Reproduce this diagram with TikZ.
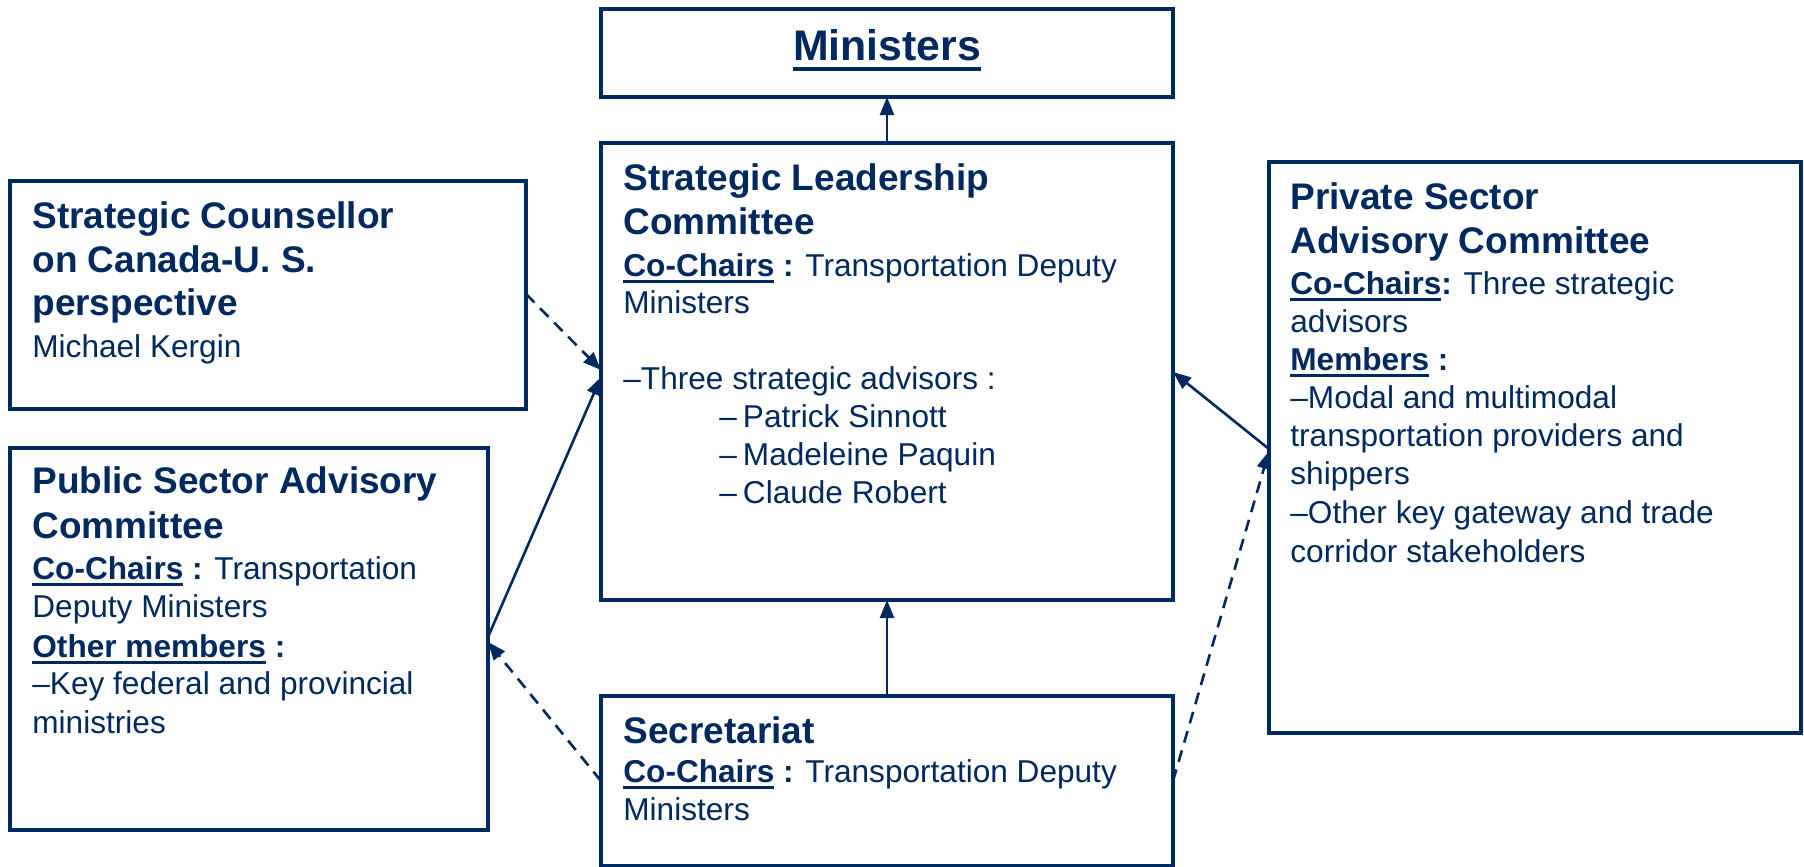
\documentclass[tikz,border=0pt]{standalone}
\usepackage{fontspec}
\setmainfont{Liberation Sans}
\usetikzlibrary{arrows.meta,calc,fit}
\definecolor{navy}{RGB}{0,41,96}

% underlined word with a rule set a little below the baseline
\newsavebox\ulsave
\newcommand\ulword[1]{\sbox\ulsave{#1}\rlap{\rule[-3.4pt]{\wd\ulsave}{1.6pt}}\usebox\ulsave}
\newcommand\ulbig[1]{\sbox\ulsave{#1}\rlap{\rule[-5pt]{\wd\ulsave}{2.1pt}}\usebox\ulsave}

\tikzset{
  box/.style={draw=navy, line width=1.55pt, inner sep=0pt, outer sep=0pt},
  hd/.style={font=\bfseries\fontsize{18.5}{22}\selectfont, text=navy, anchor=base west, inner sep=0pt},
  bd/.style={font=\fontsize{15.8}{19}\selectfont, text=navy, anchor=base west, inner sep=0pt},
  title/.style={font=\bfseries\fontsize{21.4}{25}\selectfont, text=navy, anchor=base, inner sep=0pt},
  link/.style={draw=navy, line width=1.3pt, -{Triangle[length=9pt,width=7pt]}},
  dlink/.style={link, dash pattern=on 6pt off 4pt}
}

\begin{document}
\begin{tikzpicture}[x=0.5pt, y=-0.5pt]
\useasboundingbox (0,0) rectangle (1804,867);
\fill[white] (0,0) rectangle (1804,867);

% boxes
\node[box, fit={(601,9) (1173,97)}] (min) {};
\node[box, fit={(601,143) (1173,600)}] (slc) {};
\node[box, fit={(10,181) (526,409)}] (csl) {};
\node[box, fit={(10,448) (488,830)}] (pub) {};
\node[box, fit={(601,696) (1173,866)}] (sec) {};
\node[box, fit={(1269,162) (1801,733)}] (pri) {};

% Ministers
\node[title] (min-t) at (887,61) {\ulbig{Ministers}};

% Strategic Leadership Committee
\node[hd] (slc-1) at (623,190) {Strategic Leadership};
\node[hd] (slc-2) at (623,234) {Committee};
\node[bd] (slc-3) at (623,276) {\ulword{\bfseries Co-Chairs}\textbf{ :} Transportation Deputy};
\node[bd] (slc-4) at (623,313) {Ministers};
\node[bd] (slc-5) at (623,389) {–Three strategic advisors :};
\node[bd] (slc-6) at (719,427) {–\hspace{3pt}Patrick Sinnott};
\node[bd] (slc-7) at (719,465) {–\hspace{3pt}Madeleine Paquin};
\node[bd] (slc-8) at (719,503) {–\hspace{3pt}Claude Robert};

% Strategic Counsellor
\node[hd] (csl-1) at (32,228) {Strategic Counsellor};
\node[hd] (csl-2) at (32,272) {on Canada-U. S.};
\node[hd] (csl-3) at (32,315) {perspective};
\node[bd] (csl-4) at (32,357) {Michael Kergin};

% Public Sector Advisory Committee
\node[hd] (pub-1) at (32,493) {Public Sector Advisory};
\node[hd] (pub-2) at (32,538) {Committee};
\node[bd] (pub-3) at (32,579) {\ulword{\bfseries Co-Chairs}\textbf{ :} Transportation};
\node[bd] (pub-4) at (32,617) {Deputy Ministers};
\node[bd] (pub-5) at (32,657) {\ulword{\bfseries Other members}\textbf{ :}};
\node[bd] (pub-6) at (32,694) {–Key federal and provincial};
\node[bd] (pub-7) at (32,733) {ministries};

% Secretariat
\node[hd] (sec-1) at (623,743) {Secretariat};
\node[bd] (sec-2) at (623,782) {\ulword{\bfseries Co-Chairs}\textbf{ :} Transportation Deputy};
\node[bd] (sec-3) at (623,820) {Ministers};

% Private Sector Advisory Committee
\node[hd] (pri-1) at (1290,209) {Private Sector};
\node[hd] (pri-2) at (1290,253) {Advisory Committee};
\node[bd] (pri-3) at (1290,294) {\ulword{\bfseries Co-Chairs}\textbf{:} Three strategic};
\node[bd] (pri-4) at (1290,332) {advisors};
\node[bd] (pri-5) at (1290,370) {\ulword{\bfseries Members}\textbf{ :}};
\node[bd] (pri-6) at (1290,408) {–Modal and multimodal};
\node[bd] (pri-7) at (1290,446) {transportation providers and};
\node[bd] (pri-8) at (1290,484) {shippers};
\node[bd] (pri-9) at (1290,523) {–Other key gateway and trade};
\node[bd] (pri-10) at (1290,562) {corridor stakeholders};

% connector end points on the box borders
\coordinate (slc-in1) at ($(slc.north west)+(0,227)$);
\coordinate (slc-in2) at ($(slc.north west)+(0,234)$);
\coordinate (slc-in3) at ($(slc.north east)+(0,229)$);
\coordinate (csl-out) at ($(csl.north east)+(0,113)$);
\coordinate (pub-out) at ($(pub.north east)+(0,189)$);
\coordinate (pub-in) at ($(pub.north east)+(0,194)$);
\coordinate (sec-outl) at ($(sec.north west)+(0,85)$);
\coordinate (sec-outr) at ($(sec.north east)+(0,85)$);
\coordinate (pri-out) at ($(pri.north west)+(0,287)$);
\coordinate (pri-in) at ($(pri.north west)+(0,289)$);

% connectors
\draw[link] (slc.north) -- (min.south);
\draw[link] (sec.north) -- (slc.south);
\draw[dlink] (csl-out) -- (slc-in1);
\draw[link] (pub-out) -- (slc-in2);
\draw[dlink] (sec-outl) -- (pub-in);
\draw[link] (pri-out) -- (slc-in3);
\draw[dlink] (sec-outr) -- (pri-in);
\end{tikzpicture}
\end{document}
